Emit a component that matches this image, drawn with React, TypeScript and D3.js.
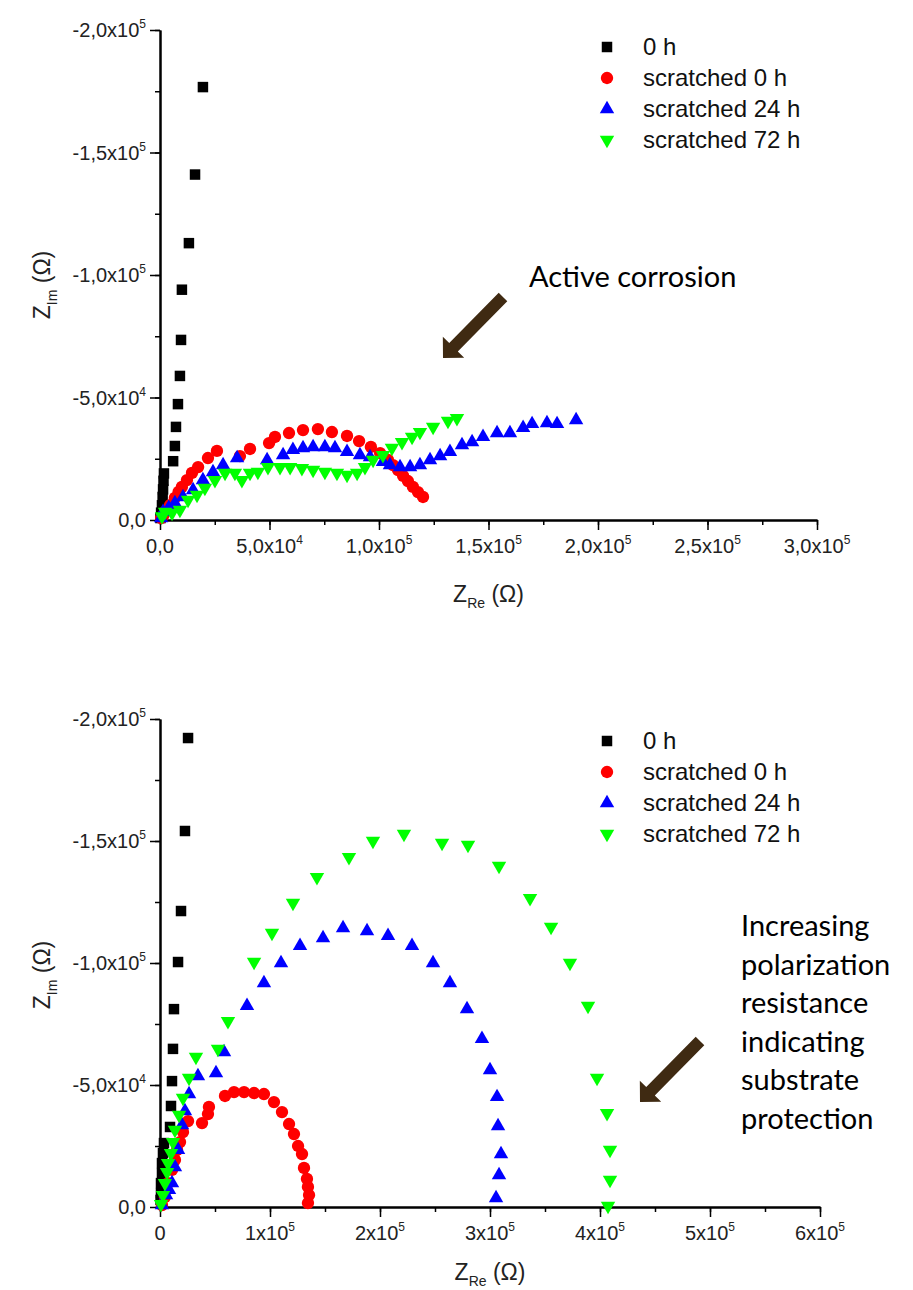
import React, { useRef, useEffect } from "react";
import * as d3 from "d3";

// Nyquist plots, all values in kOhm as [Z_Re, Z_Im]
const seriesNames = ["0 h", "scratched 0 h", "scratched 24 h", "scratched 72 h"];
const seriesColors = ["#000000", "#ff0000", "#0000ff", "#00ff00"];
const seriesShapes = ["square", "circle", "up", "down"];

// upper panel
const topIntact: [number, number][] = [
	[19.6, -176.7], [16.0, -141.0], [13.2, -113.0], [10.0, -94.0], [9.6, -73.5], [9.1, -58.8],
	[8.2, -47.3], [7.3, -38.0], [6.8, -30.2], [6.0, -24.0], [1.8, -19.0], [1.6, -16.0],
	[1.4, -12.5], [1.2, -9.4], [0.9, -6.0], [0.5, -3.0], [0.2, -0.8]
];
const topScratched0: [number, number][] = [
	[0.5, -0.8], [1.4, -1.6], [2.3, -3.3], [4.6, -6.1], [6.8, -9.0], [8.5, -11.5], [10.0, -13.5],
	[12.3, -16.3], [14.6, -19.2], [17.4, -21.6], [21.9, -25.3], [26.0, -28.2], [36.5, -26.1],
	[41.1, -29.0], [49.8, -31.4], [52.5, -33.9], [58.9, -35.5], [65.3, -36.7], [72.1, -37.1],
	[78.5, -35.9], [85.4, -34.3], [90.9, -32.2], [96.3, -29.8], [100.5, -27.3], [104.1, -24.5],
	[106.4, -22.4], [108.7, -20.4], [111.0, -18.0], [113.2, -15.9], [115.5, -13.5],
	[117.8, -11.4], [120.1, -9.4]
];
const topScratched24: [number, number][] = [
	[0.5, -0.8], [1.4, -3.3], [4.0, -5.0], [6.8, -6.9], [10.5, -9.4], [15.1, -12.2], [19.6, -16.3],
	[24.2, -19.6], [28.8, -22.4], [35.2, -25.3], [48.9, -24.5], [56.2, -26.5], [60.7, -28.6],
	[65.3, -29.4], [69.9, -29.8], [75.3, -29.8], [79.9, -29.4], [85.4, -27.8], [91.3, -26.5],
	[95.9, -25.7], [101.8, -23.7], [105.0, -22.4], [109.6, -21.6], [114.2, -21.6], [118.7, -22.4],
	[123.3, -24.5], [127.9, -26.1], [132.4, -27.8], [137.9, -30.6], [142.5, -31.8], [147.5, -33.9],
	[153.9, -35.5], [159.8, -35.5], [165.8, -37.6], [169.9, -39.2], [176.7, -39.6], [181.3, -39.2],
	[190.0, -40.8]
];
const topScratched72: [number, number][] = [
	[0.9, -1.5], [2.3, -3.3], [5.5, -2.9], [9.1, -4.1], [12.8, -8.2], [16.9, -10.2], [20.5, -13.1],
	[25.1, -16.3], [29.7, -19.2], [34.2, -19.2], [37.4, -16.3], [41.1, -19.2], [44.7, -19.6],
	[49.3, -21.6], [54.8, -21.6], [59.4, -21.6], [64.8, -21.2], [69.9, -20.4], [75.3, -19.6],
	[80.8, -19.2], [85.4, -18.4], [90.0, -19.2], [93.6, -21.6], [97.3, -24.5], [101.8, -26.5],
	[105.9, -29.4], [110.5, -31.8], [115.1, -33.9], [118.7, -35.9], [124.7, -38.0], [131.5, -40.4],
	[135.6, -41.6]
];

// lower panel
const botIntact: [number, number][] = [
	[25.5, -192.2], [22.7, -154.1], [19.1, -121.3], [16.4, -100.4], [12.7, -81.1], [11.8, -64.8],
	[10.9, -51.6], [10.0, -41.4], [9.1, -32.8], [3.6, -26.2], [2.7, -22.1], [1.8, -18.0],
	[1.8, -13.9], [0.9, -9.8], [0.9, -5.7], [0.5, -2.9]
];
const botScratched0: [number, number][] = [
	[1.8, -0.8], [4.5, -4.1], [7.3, -9.8], [10.9, -15.2], [13.6, -19.3], [15.5, -23.4], [18.2, -26.6],
	[20.9, -30.7], [25.5, -35.2], [38.2, -34.4], [43.6, -38.1], [44.5, -41.0], [59.1, -45.5],
	[67.3, -47.1], [76.4, -47.1], [85.5, -46.7], [94.5, -46.3], [103.6, -43.0], [110.9, -38.9],
	[117.3, -34.0], [121.8, -29.9], [125.5, -25.0], [129.1, -21.7], [130.9, -16.0], [133.6, -11.5],
	[134.5, -8.2], [135.5, -4.9], [134.5, -1.6]
];
const botScratched24: [number, number][] = [
	[1.8, -0.8], [5.5, -4.9], [8.2, -7.0], [10.9, -9.8], [13.6, -16.4], [16.4, -23.4], [20.0, -33.6],
	[22.7, -39.3], [26.4, -46.3], [34.5, -53.7], [50.9, -54.9], [58.2, -63.5], [79.1, -82.4],
	[94.5, -91.8], [110.0, -100.0], [127.3, -107.0], [148.2, -110.2], [166.4, -114.3], [188.2, -113.1],
	[207.3, -111.1], [229.1, -107.0], [248.2, -100.0], [263.6, -91.8], [279.1, -81.1], [292.7, -68.9],
	[300.0, -56.1], [306.4, -45.1], [307.3, -33.2], [310.0, -21.7], [308.2, -13.1], [305.5, -3.7]
];
const botScratched72: [number, number][] = [
	[0.9, -1.2], [2.7, -4.9], [4.5, -9.8], [6.4, -14.3], [7.3, -18.0], [10.0, -22.1], [11.8, -26.6],
	[13.6, -31.6], [17.3, -37.7], [20.9, -44.7], [26.4, -52.9], [32.7, -61.5], [52.7, -64.8],
	[61.8, -76.2], [85.5, -100.4], [101.8, -112.3], [120.9, -124.6], [142.7, -135.2], [171.8, -143.4],
	[193.6, -150.0], [221.8, -152.9], [256.4, -149.2], [280.0, -148.4], [308.2, -139.8], [336.4, -126.6],
	[355.5, -114.8], [372.7, -100.0], [389.1, -82.4], [397.3, -52.9], [406.4, -38.5], [409.1, -23.4],
	[409.1, -11.1], [407.3, -0.4]
];

// ticks (kOhm) and their labels, "^" marks the exponent
const yTicks = [0, -50, -100, -150, -200];
const yTickLabels = ["0,0", "-5,0x10^4", "-1,0x10^5", "-1,5x10^5", "-2,0x10^5"];
const topXTicks = [0, 50, 100, 150, 200, 250, 300];
const topXTickLabels = ["0,0", "5,0x10^4", "1,0x10^5", "1,5x10^5", "2,0x10^5", "2,5x10^5", "3,0x10^5"];
const botXTicks = [0, 100, 200, 300, 400, 500, 600];
const botXTickLabels = ["0", "1x10^5", "2x10^5", "3x10^5", "4x10^5", "5x10^5", "6x10^5"];

const topNote = ["Active corrosion"];
const botNote = ["Increasing", "polarization", "resistance", "indicating", "substrate", "protection"];

const FONT = "'Liberation Sans', Arial, sans-serif";
const NOTE_FONT = "Lato, 'Open Sans', sans-serif";

const App = () => {
	const ref = useRef<SVGSVGElement>(null);

	useEffect(() => {
		document.body.style.margin = "0";
		const svg = d3.select(ref.current);
		svg.selectAll("*").remove();

		const symbolPath = (shape: string) => {
			if (shape === "square") return d3.symbol(d3.symbolSquare, 110)();
			if (shape === "circle") return d3.symbol(d3.symbolCircle, 120)();
			return d3.symbol(d3.symbolTriangle, 90)();
		};

		const tickText = (sel: any, label: string, big: number) => {
			const parts = label.split("^");
			sel.append("tspan").text(parts[0]);
			if (parts[1]) {
				sel.append("tspan")
					.attr("font-size", big * 0.6)
					.attr("dy", -big * 0.45)
					.text(parts[1]);
			}
		};

		const drawPanel = (cfg: any) => {
			const g = svg.append("g");
			const x = d3.scaleLinear().domain([0, cfg.xMax]).range([160, cfg.xRight]);
			const y = d3.scaleLinear().domain([0, -200]).range([cfg.yBottom, cfg.yTop]);

			// minor ticks
			const xMinor = d3.range(0, cfg.xMax + 0.1, cfg.xMinorStep);
			g.append("g")
				.attr("transform", `translate(0,${cfg.yBottom})`)
				.call(d3.axisBottom(x).tickValues(xMinor).tickSize(5).tickSizeOuter(0).tickFormat(() => ""));
			g.append("g")
				.attr("transform", `translate(160,0)`)
				.call(d3.axisLeft(y).tickValues(d3.range(0, -200.1, -25)).tickSize(5).tickSizeOuter(0).tickFormat(() => ""));

			// major ticks
			g.append("g")
				.attr("transform", `translate(0,${cfg.yBottom})`)
				.call(d3.axisBottom(x).tickValues(cfg.xTicks).tickSize(10).tickSizeOuter(0).tickFormat(() => ""));
			g.append("g")
				.attr("transform", `translate(160,0)`)
				.call(d3.axisLeft(y).tickValues(yTicks).tickSize(10).tickSizeOuter(0).tickFormat(() => ""));

			g.selectAll(".domain").attr("stroke", "#000").attr("stroke-width", 2);
			g.selectAll(".tick line").attr("stroke", "#000").attr("stroke-width", 1.5);

			// tick labels
			cfg.xTicks.forEach((v: number, i: number) => {
				const t = g.append("text")
					.attr("x", x(v))
					.attr("y", cfg.yBottom + 33)
					.attr("text-anchor", "middle")
					.attr("font-family", FONT)
					.attr("font-size", 20)
					.attr("fill", "#222");
				tickText(t, cfg.xTickLabels[i], 20);
			});
			yTicks.forEach((v, i) => {
				const t = g.append("text")
					.attr("x", 146)
					.attr("y", y(v) + 7)
					.attr("text-anchor", "end")
					.attr("font-family", FONT)
					.attr("font-size", 20)
					.attr("fill", "#222");
				tickText(t, yTickLabels[i], 20);
			});

			// axis titles
			const xt = g.append("text")
				.attr("x", (160 + cfg.xRight) / 2)
				.attr("y", cfg.xTitleY)
				.attr("text-anchor", "middle")
				.attr("font-family", FONT)
				.attr("font-size", 23)
				.attr("fill", "#222");
			xt.append("tspan").text("Z");
			xt.append("tspan").attr("font-size", 14).attr("dy", 6).text("Re");
			xt.append("tspan").attr("dy", -6).text(" (Ω)");

			const yt = g.append("text")
				.attr("transform", `translate(50,${cfg.yTitleY}) rotate(-90)`)
				.attr("text-anchor", "middle")
				.attr("font-family", FONT)
				.attr("font-size", 23)
				.attr("fill", "#222");
			yt.append("tspan").text("Z");
			yt.append("tspan").attr("font-size", 14).attr("dy", 7).text("Im");
			yt.append("tspan").attr("dy", -7).text(" (Ω)");

			// points
			cfg.series.forEach((data: [number, number][], si: number) => {
				g.append("g")
					.selectAll("path")
					.data(data)
					.enter()
					.append("path")
					.attr("d", symbolPath(seriesShapes[si]))
					.attr("transform", (d) => `translate(${x(d[0])},${y(d[1])})${seriesShapes[si] === "down" ? " rotate(180)" : ""}`)
					.attr("fill", seriesColors[si]);
			});

			// legend
			seriesNames.forEach((name, i) => {
				const ly = cfg.legendY + i * 31;
				g.append("path")
					.attr("d", symbolPath(seriesShapes[i]))
					.attr("transform", `translate(607,${ly})${seriesShapes[i] === "down" ? " rotate(180)" : ""}`)
					.attr("fill", seriesColors[i]);
				g.append("text")
					.attr("x", 643)
					.attr("y", ly + 8)
					.attr("font-family", FONT)
					.attr("font-size", 24)
					.attr("fill", "#111")
					.text(name);
			});

			// annotation
			cfg.note.forEach((line: string, i: number) => {
				g.append("text")
					.attr("x", cfg.noteX)
					.attr("y", cfg.noteY + i * 38.5)
					.attr("font-family", NOTE_FONT)
					.attr("font-size", 29)
					.attr("fill", "#000")
					.text(line);
			});

			// brown block arrow pointing down-left
			const [tx, ty, hx, hy] = cfg.arrow;
			const len = Math.hypot(hx - tx, hy - ty);
			const ang = (Math.atan2(hy - ty, hx - tx) * 180) / Math.PI;
			const head = 15;
			const pts = [[0, -6], [len - head, -6], [len - head, -15], [len, 0], [len - head, 15], [len - head, 6], [0, 6]];
			g.append("polygon")
				.attr("points", pts.map((p) => p.join(",")).join(" "))
				.attr("transform", `translate(${tx},${ty}) rotate(${ang})`)
				.attr("fill", "#3f2a12");
		};

		drawPanel({
			xMax: 300, xRight: 817, xMinorStep: 25, yBottom: 520, yTop: 30,
			xTicks: topXTicks, xTickLabels: topXTickLabels,
			xTitleY: 602, yTitleY: 285, legendY: 47,
			series: [topIntact, topScratched0, topScratched24, topScratched72],
			note: topNote, noteX: 529, noteY: 287,
			arrow: [503, 297, 443, 358]
		});

		drawPanel({
			xMax: 600, xRight: 820, xMinorStep: 50, yBottom: 1207, yTop: 719,
			xTicks: botXTicks, xTickLabels: botXTickLabels,
			xTitleY: 1280, yTitleY: 975, legendY: 741,
			series: [botIntact, botScratched0, botScratched24, botScratched72],
			note: botNote, noteX: 741, noteY: 936,
			arrow: [700, 1041, 640, 1102]
		});
	}, []);

	return <svg ref={ref} width={913} height={1290} style={{ display: "block", background: "#fff" }}></svg>;
};

export default App;
